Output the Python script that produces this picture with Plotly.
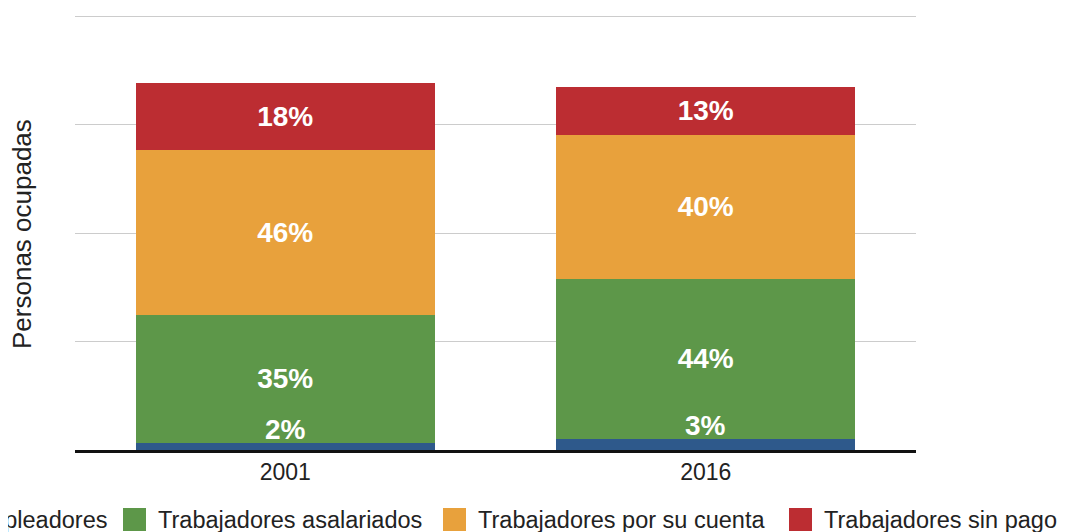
import plotly.graph_objects as go

# ---- data ----
years = ["2001", "2016"]
series_names = ["Empleadores", "Trabajadores asalariados",
                "Trabajadores por su cuenta", "Trabajadores sin pago"]
empleadores = [65, 106]
asalariados = [1179, 1473]
por_su_cuenta = [1519, 1326]
sin_pago = [617, 442]
labels_empleadores = ["2%", "3%"]
labels_asalariados = ["35%", "44%"]
labels_por_su_cuenta = ["46%", "40%"]
labels_sin_pago = ["18%", "13%"]
colors = ["#2e598b", "#5d9749", "#e8a13c", "#bc2d32"]
y_max_grid = 4000

FONT = "Liberation Sans, Arial, sans-serif"

# The page body has a default 8px margin; work in page pixels and convert.
OFF = 8
W, H = 1065 - OFF, 532 - OFF
# plot area in page pixels (top grid line sits at 16, a little below the top)
L, R, T, B = 75, 916, 12, 450
GRID_TOP_PX = 16
y_top = y_max_grid * (B - T) / (B - GRID_TOP_PX)


def px_x(p):
    return (p - L) / (R - L)


def px_y(p):
    return (B - p) / (B - T)


fig = go.Figure()
values = [empleadores, asalariados, por_su_cuenta, sin_pago]
labels = [labels_empleadores, labels_asalariados, labels_por_su_cuenta, labels_sin_pago]
for i, (name, vals, lab) in enumerate(zip(series_names, values, labels)):
    fig.add_trace(go.Bar(
        x=years, y=vals, name=name,
        marker=dict(color=colors[i], line=dict(width=0)),
        text=None if i == 0 else lab,
        textposition="inside",
        insidetextanchor="middle",
        textangle=0,
        textfont=dict(family=FONT, size=28, color="white", weight="bold"),
        showlegend=False,
    ))

annotations = []
# labels for the thin bottom segment, drawn just above it (x = category index)
for idx, (v, lab) in enumerate(zip(empleadores, labels_empleadores)):
    annotations.append(dict(
        x=idx, y=v, xref="x", yref="y", text=lab, showarrow=False,
        yanchor="bottom", xanchor="center", yshift=-4,
        font=dict(family=FONT, size=28, color="white", weight="bold"),
    ))

# y axis title
annotations.append(dict(
    x=px_x(22), y=px_y(234), xref="paper", yref="paper", text="Personas ocupadas",
    textangle=-90, showarrow=False, xanchor="center", yanchor="middle",
    font=dict(family=FONT, size=26, color="#222222"),
))

# manual single-row legend (overflows on the left like the reference)
legend_square_x = [-66, 123, 443, 789]
shapes = []
for i, name in enumerate(series_names):
    sx = legend_square_x[i]
    shapes.append(dict(
        type="rect", xref="paper", yref="paper",
        x0=px_x(sx), x1=px_x(sx + 23), y0=px_y(531), y1=px_y(508),
        fillcolor=colors[i], line=dict(width=0),
    ))
    annotations.append(dict(
        x=px_x(sx + 33), y=px_y(519.5), xref="paper", yref="paper", text=name,
        showarrow=False, xanchor="left", yanchor="middle",
        font=dict(family=FONT, size=23.5, color="#222222"),
    ))

fig.update_layout(
    barmode="stack",
    bargap=0.289,
    width=W, height=H,
    margin=dict(l=L - OFF, r=W - (R - OFF), t=T - OFF, b=H - (B - OFF),
                autoexpand=False),
    paper_bgcolor="white", plot_bgcolor="white",
    font=dict(family=FONT, size=23, color="#222222"),
    showlegend=False,
    uniformtext=dict(mode="show", minsize=10),
    xaxis=dict(
        type="category", showline=True, linecolor="#111111", linewidth=2.5,
        ticks="", showgrid=False, range=[-0.5, 1.5],
        tickfont=dict(family=FONT, size=23, color="#222222"),
    ),
    yaxis=dict(
        range=[0, y_top], dtick=1000, showticklabels=False, ticks="",
        showgrid=True, gridcolor="#cccccc", gridwidth=1, zeroline=False,
        showline=False,
    ),
    annotations=annotations,
    shapes=shapes,
)

fig.write_html("out.html")
